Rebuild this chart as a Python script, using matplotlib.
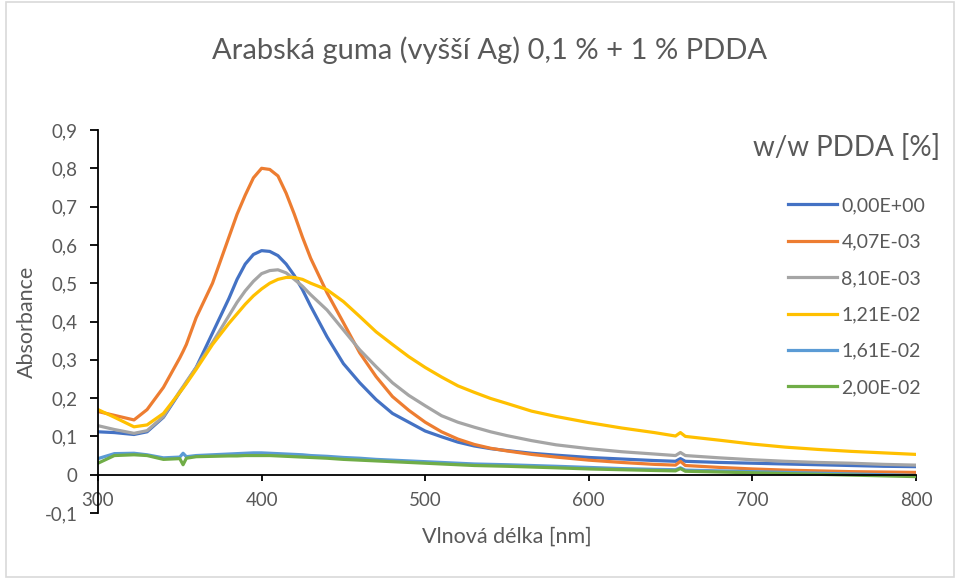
import matplotlib
matplotlib.use("Agg")
import matplotlib.pyplot as plt
from matplotlib.patches import Rectangle
from matplotlib.ticker import FuncFormatter, MultipleLocator

plt.rcParams['font.family'] = ['Lato', 'DejaVu Sans']

# wavelengths [nm]
wavelength = [300, 310, 322, 330, 340, 350, 352, 354, 360, 370, 380, 385, 390, 395, 400,
              405, 410, 415, 420, 425, 430, 440, 450, 460, 470, 480, 490, 500, 510, 520,
              530, 540, 550, 565, 580, 600, 620, 640, 653, 656, 659, 680, 700, 720, 740,
              760, 780, 800]

a_000 = [0.112, 0.110, 0.105, 0.112, 0.150, 0.215, 0.228, 0.240, 0.280, 0.370, 0.460, 0.510,
         0.550, 0.575, 0.585, 0.583, 0.572, 0.550, 0.520, 0.483, 0.440, 0.360, 0.290, 0.240,
         0.196, 0.160, 0.137, 0.114, 0.099, 0.085, 0.075, 0.068, 0.063, 0.056, 0.051, 0.045,
         0.041, 0.037, 0.035, 0.042, 0.035, 0.032, 0.030, 0.028, 0.026, 0.024, 0.022, 0.021]
a_407 = [0.165, 0.155, 0.143, 0.170, 0.228, 0.305, 0.322, 0.340, 0.410, 0.500, 0.620, 0.680,
         0.730, 0.775, 0.800, 0.797, 0.780, 0.735, 0.680, 0.620, 0.565, 0.475, 0.397, 0.318,
         0.256, 0.204, 0.168, 0.137, 0.112, 0.093, 0.079, 0.069, 0.062, 0.053, 0.046, 0.038,
         0.032, 0.027, 0.025, 0.035, 0.024, 0.019, 0.015, 0.012, 0.010, 0.008, 0.007, 0.006]
a_810 = [0.128, 0.118, 0.108, 0.115, 0.152, 0.218, 0.230, 0.243, 0.280, 0.345, 0.415, 0.450,
         0.480, 0.505, 0.525, 0.533, 0.535, 0.527, 0.510, 0.492, 0.470, 0.430, 0.378, 0.326,
         0.282, 0.240, 0.207, 0.180, 0.154, 0.137, 0.124, 0.112, 0.102, 0.089, 0.078, 0.068,
         0.060, 0.054, 0.050, 0.058, 0.050, 0.044, 0.039, 0.035, 0.032, 0.030, 0.027, 0.025]
a_121 = [0.170, 0.150, 0.125, 0.130, 0.160, 0.215, 0.226, 0.238, 0.275, 0.340, 0.395, 0.420,
         0.445, 0.467, 0.485, 0.500, 0.510, 0.515, 0.515, 0.510, 0.500, 0.483, 0.452, 0.413,
         0.373, 0.340, 0.308, 0.280, 0.255, 0.232, 0.215, 0.199, 0.186, 0.166, 0.152, 0.136,
         0.122, 0.110, 0.101, 0.110, 0.100, 0.090, 0.080, 0.072, 0.066, 0.061, 0.057, 0.053]
a_161 = [0.042, 0.055, 0.056, 0.052, 0.044, 0.046, 0.056, 0.047, 0.050, 0.052, 0.054, 0.055,
         0.056, 0.057, 0.057, 0.056, 0.055, 0.054, 0.053, 0.052, 0.050, 0.048, 0.045, 0.043,
         0.040, 0.038, 0.036, 0.034, 0.032, 0.030, 0.028, 0.027, 0.026, 0.024, 0.022, 0.019,
         0.016, 0.014, 0.013, 0.018, 0.012, 0.010, 0.008, 0.006, 0.004, 0.002, 0.000, -0.002]
a_200 = [0.030, 0.050, 0.052, 0.050, 0.040, 0.042, 0.026, 0.043, 0.047, 0.048, 0.049, 0.049,
         0.050, 0.050, 0.050, 0.050, 0.049, 0.048, 0.047, 0.046, 0.045, 0.043, 0.040, 0.038,
         0.036, 0.034, 0.032, 0.030, 0.028, 0.026, 0.024, 0.023, 0.022, 0.020, 0.018, 0.015,
         0.013, 0.011, 0.010, 0.016, 0.009, 0.007, 0.005, 0.003, 0.001, -0.001, -0.003, -0.005]

labels = ['0,00E+00', '4,07E-03', '8,10E-03', '1,21E-02', '1,61E-02', '2,00E-02']
colors = ['#4472C4', '#ED7D31', '#A5A5A5', '#FFC000', '#5B9BD5', '#70AD47']
series = [a_000, a_407, a_810, a_121, a_161, a_200]

txt = '#595959'

fig = plt.figure(figsize=(9.6, 5.79), dpi=100)
ax = fig.add_axes([98 / 960, 1 - 513 / 579, (916 - 98) / 960, (513 - 130) / 579])

for vals, c, lab in zip(series, colors, labels):
    ax.plot(wavelength, vals, color=c, lw=2.3, label=lab, solid_joinstyle='round')

ax.set_xlim(300, 800)
ax.set_ylim(-0.1, 0.9)
ax.xaxis.set_major_locator(MultipleLocator(100))
ax.yaxis.set_major_locator(MultipleLocator(0.1))
ax.yaxis.set_major_formatter(FuncFormatter(
    lambda v, p: '0' if abs(v) < 1e-9 else f'{v:.1f}'.replace('.', ',')))

ax.spines['top'].set_visible(False)
ax.spines['right'].set_visible(False)
ax.spines['bottom'].set_position(('data', 0))
for s in ('left', 'bottom'):
    ax.spines[s].set_color('black')
    ax.spines[s].set_linewidth(1.3)
ax.tick_params(axis='both', direction='out', width=1.3, color='black',
               labelsize=13.5, labelcolor=txt)
ax.tick_params(axis='x', length=4.5, pad=8)
ax.tick_params(axis='y', length=5.5, pad=9)

ax.set_xlabel('Vlnová délka [nm]', fontsize=15.5, color=txt, va='center')
ax.xaxis.set_label_coords(0.5, (513 - 537) / 383)
ax.set_ylabel('Absorbance', fontsize=15.5, color=txt, va='center')
ax.yaxis.set_label_coords((27 - 98) / 818, 0.5)

fig.text(490 / 960, 1 - 50 / 579, 'Arabská guma (vyšší Ag) 0,1 % + 1 % PDDA',
         ha='center', va='center', fontsize=21, color=txt)
fig.text(847 / 960, 1 - 148 / 579, 'w/w PDDA [%]', ha='center', va='center',
         fontsize=20, color=txt)

leg = fig.legend(loc='upper left', bbox_to_anchor=(788 / 960, 1 - 197 / 579),
                 frameon=False, fontsize=14, handlelength=2.5, handletextpad=0.25,
                 labelspacing=1.0, borderpad=0, borderaxespad=0)
for t in leg.get_texts():
    t.set_color(txt)

fig.patches.append(Rectangle((0.006, 0.004), 0.988, 0.992, transform=fig.transFigure,
                             fill=False, edgecolor='#D9D9D9', lw=1.2))

fig.savefig('out.png', dpi=100)
